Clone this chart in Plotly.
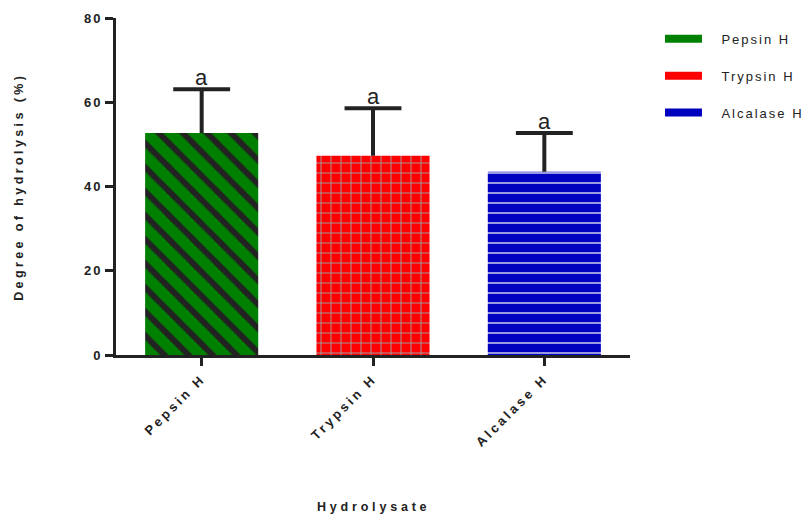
import plotly.graph_objects as go

# Degree of hydrolysis per hydrolysate (mean and upper SD)
categories = ["Pepsin H", "Trypsin H", "Alcalase H"]
means = [52.7, 47.3, 43.5]
sd_upper = [10.4, 11.3, 9.2]
letters = ["a", "a", "a"]
y_ticks = [0, 20, 40, 60, 80]

bar_colors = ["#008000", "#FF0000", "#0000BF"]
pattern_shapes = ["\\", "+", "-"]
pattern_colors = ["#222222", "#A0A0A0", "#FFFFFF"]
pattern_sizes = [17, 10, 10]
pattern_solidity = [0.35, 0.18, 0.12]

AXIS = "#222222"
FONT = "Liberation Sans, Arial, sans-serif"
CAP_HALF = 0.166  # half width of the error-bar cap, in category units


def spaced(text, px=2):
    return f'<span style="letter-spacing:{px}px">{text}</span>'


fig = go.Figure()
for i, cat in enumerate(categories):
    fig.add_trace(go.Bar(
        x=[i], y=[means[i]], name=cat, width=0.66, showlegend=False,
        marker=dict(
            color=bar_colors[i], line=dict(width=0),
            pattern=dict(shape=pattern_shapes[i], fgcolor=pattern_colors[i],
                         bgcolor=bar_colors[i], size=pattern_sizes[i],
                         solidity=pattern_solidity[i], fillmode="replace"),
        ),
    ))

# upper error bars: stem from the bar top plus a cap
for i, cat in enumerate(categories):
    top = means[i] + sd_upper[i]
    fig.add_trace(go.Scatter(
        x=[i, i, None, i - CAP_HALF, i + CAP_HALF],
        y=[means[i], top, None, top, top],
        mode="lines", line=dict(color=AXIS, width=4),
        showlegend=False, hoverinfo="skip",
    ))
    fig.add_annotation(x=i, y=top, text=letters[i],
                       showarrow=False, yanchor="bottom", yshift=-3,
                       font=dict(family=FONT, size=22, color=AXIS))

# legend keys drawn as wide flat swatches
for i, cat in enumerate(categories):
    fig.add_trace(go.Scatter(
        x=[None], y=[None], mode="lines",
        name="&nbsp;&nbsp;&nbsp;&nbsp;" + spaced(cat, 2),
        line=dict(color=bar_colors[i], width=8), legendgroup=cat,
    ))

fig.add_annotation(text=spaced("Degree of hydrolysis (%)", 3.4), xref="paper", yref="paper",
                   x=-0.19, y=0.5, textangle=-90, showarrow=False,
                   xanchor="center", yanchor="middle",
                   font=dict(family=FONT, size=12.5, color=AXIS, weight="bold"))
fig.add_annotation(text=spaced("Hydrolysate", 3.8), xref="paper", yref="paper",
                   x=0.5, y=-0.452, showarrow=False,
                   xanchor="center", yanchor="middle",
                   font=dict(family=FONT, size=12.5, color=AXIS, weight="bold"))

fig.update_layout(
    width=808, height=519,
    margin=dict(l=116, r=178, t=11, b=164),
    plot_bgcolor="white", paper_bgcolor="white",
    showlegend=True,
    legend=dict(xref="container", yref="container", x=0.8168, y=0.954,
                xanchor="left", yanchor="top",
                font=dict(family=FONT, size=13, color=AXIS),
                tracegroupgap=17, itemwidth=37, bgcolor="rgba(0,0,0,0)"),
    xaxis=dict(
        range=[-0.5, 2.5], tickvals=list(range(len(categories))),
        ticktext=[spaced(c, 3) for c in categories],
        showline=True, linecolor=AXIS, linewidth=3,
        ticks="outside", ticklen=8, tickwidth=3, tickcolor=AXIS,
        tickangle=-45, showgrid=False, zeroline=False,
        tickfont=dict(family=FONT, size=13, color=AXIS, weight="bold"),
    ),
    yaxis=dict(
        range=[0, 80], tickvals=y_ticks, ticktext=[spaced(str(v), 2) for v in y_ticks],
        showline=True, linecolor=AXIS,
        linewidth=3, ticks="outside", ticklen=8, tickwidth=3, tickcolor=AXIS,
        showgrid=False, zeroline=False,
        tickfont=dict(family=FONT, size=13, color=AXIS, weight="bold"),
    ),
)

fig.write_html("out.html")
